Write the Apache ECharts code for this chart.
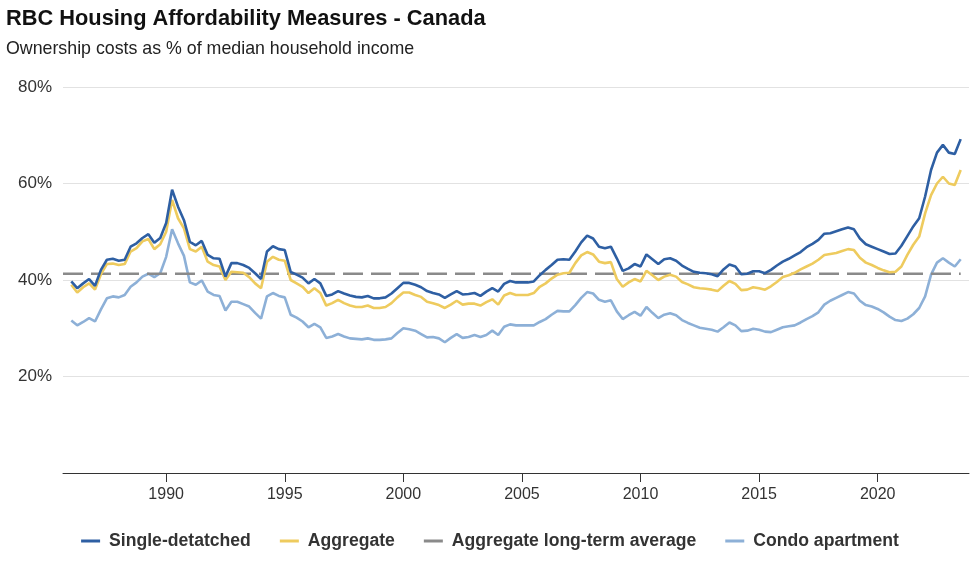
<!DOCTYPE html>
<html><head><meta charset="utf-8">
<script src="https://cdn.jsdelivr.net/npm/echarts@6/dist/echarts.min.js"></script>
<style>html,body{margin:0;padding:0;background:#fff}#c{width:980px;height:563px}</style>
</head><body><div id="c"></div>
<script>
// Quarterly data, 1986 Q1 .. 2023 Q3
const startYear = 1986;
const single = [
39.7,38.3,39.3,40.2, 38.8,42.1,44.2,44.4, 44.0,44.2,46.9,47.6, 48.7,49.5,47.7,48.7,
51.8,58.7,55.2,52.4, 47.9,47.2,48.1,45.2, 44.5,44.4,40.7,43.5, 43.5,43.1,42.5,41.4,
40.2,45.9,47.0,46.4, 46.2,41.7,41.1,40.5, 39.3,40.2,39.3,36.7, 37.0,37.7,37.2,36.8,
36.5,36.4,36.7,36.2, 36.2,36.4,37.2,38.3, 39.4,39.4,39.0,38.5, 37.7,37.3,37.0,36.3,
37.0,37.7,37.0,37.1, 37.3,36.7,37.6,38.3, 37.6,39.2,39.8,39.5, 39.5,39.5,39.7,41.0,
42.1,43.1,44.2,44.3, 44.2,45.9,47.8,49.2, 48.6,46.9,46.6,46.9, 44.5,41.9,42.4,43.3,
42.8,45.3,44.3,43.3, 44.3,44.5,44.0,43.0, 42.3,41.7,41.5,41.4, 41.2,40.8,42.2,43.2,
42.8,41.2,41.3,41.8, 41.8,41.4,42.1,43.0, 43.8,44.4,45.1,45.8, 46.8,47.5,48.3,49.6,
49.7,50.1,50.5,50.9, 50.5,48.6,47.4,46.9, 46.4,45.9,45.4,45.5, 47.1,49.1,51.1,52.8,
57.3,62.8,66.4,68.0, 66.4,66.1,69.2
];
const aggregate = [
39.0,37.4,38.5,39.3, 38.0,41.2,43.3,43.4, 43.1,43.3,45.9,46.6, 48.0,48.5,46.4,47.4,
50.0,56.6,52.8,50.7, 46.4,45.9,46.9,43.8, 43.1,42.8,40.0,41.7, 41.6,41.5,40.6,39.3,
38.3,43.8,44.8,44.2, 44.0,40.0,39.3,38.6, 37.3,38.3,37.3,34.7, 35.2,35.9,35.2,34.7,
34.4,34.4,34.7,34.2, 34.2,34.4,35.2,36.4, 37.4,37.4,36.9,36.5, 35.5,35.2,34.8,34.2,
34.9,35.7,34.9,35.1, 35.1,34.7,35.4,36.0, 34.9,36.8,37.3,36.9, 36.9,36.9,37.3,38.6,
39.3,40.3,41.1,41.4, 41.5,43.5,45.1,45.8, 45.3,43.8,43.5,43.7, 40.2,38.6,39.5,40.2,
39.7,41.9,41.0,40.0, 40.7,41.1,40.7,39.6, 39.1,38.5,38.3,38.2, 38.0,37.7,38.8,39.8,
39.2,37.9,38.0,38.5, 38.3,38.0,38.7,39.6, 40.6,41.0,41.5,42.2, 42.8,43.4,44.2,45.2,
45.4,45.6,46.0,46.4, 46.2,44.6,43.6,43.1, 42.5,42.0,41.6,41.7, 42.8,45.2,47.3,49.0,
53.8,57.6,60.0,61.4, 60.0,59.7,62.8
];
const condo = [
31.6,30.6,31.3,32.1, 31.4,33.9,36.2,36.6, 36.4,36.9,38.6,39.5, 40.7,41.3,40.6,41.4,
44.8,50.5,47.6,45.0, 39.5,39.0,39.9,37.6, 36.9,36.7,33.7,35.5, 35.5,35.0,34.5,33.2,
32.0,36.6,37.3,36.7, 36.4,32.8,32.2,31.4, 30.2,30.9,30.2,28.0, 28.3,28.8,28.3,27.9,
27.8,27.7,27.9,27.6, 27.6,27.7,27.9,29.0, 30.0,29.8,29.5,28.8, 28.1,28.2,27.9,27.1,
28.0,28.8,28.0,28.2, 28.6,28.2,28.6,29.5, 28.6,30.3,30.8,30.6, 30.6,30.6,30.6,31.3,
31.9,32.8,33.6,33.5, 33.5,34.8,36.3,37.5, 37.2,35.9,35.5,35.8, 33.5,31.9,32.7,33.4,
32.6,34.4,33.2,32.1, 32.8,33.1,32.7,31.7, 31.1,30.6,30.1,29.9, 29.7,29.3,30.2,31.2,
30.6,29.4,29.5,29.9, 29.7,29.3,29.2,29.7, 30.2,30.4,30.6,31.2, 31.9,32.5,33.3,34.9,
35.7,36.3,36.9,37.5, 37.2,35.7,34.8,34.5, 34.0,33.3,32.4,31.7, 31.5,32.0,32.9,34.2,
36.6,41.1,43.6,44.5, 43.6,42.8,44.3
];
const longTermAvg = 41.3;
const xTicks = [1990, 1995, 2000, 2005, 2010, 2015, 2020];
const yTicks = [20, 40, 60, 80];
const xMin = 1985.65, xMax = 2023.85;

const quarters = single.map((_, i) => startYear + i / 4);
const pair = arr => arr.map((v, i) => [quarters[i], v]);
const avgData = [[xMin, longTermAvg], [quarters[quarters.length - 1], longTermAvg]];

const FONT = "'Liberation Sans', Arial, Helvetica, sans-serif";
const chart = echarts.init(document.getElementById('c'), null, {renderer: 'canvas'});
chart.setOption({
  animation: false,
  backgroundColor: '#ffffff',
  textStyle: {fontFamily: FONT},
  title: {
    text: 'RBC Housing Affordability Measures - Canada',
    subtext: 'Ownership costs as % of median household income',
    left: 1, top: 3, itemGap: 10,
    textStyle: {fontFamily: FONT, fontSize: 21.8, fontWeight: 'bold', color: '#111'},
    subtextStyle: {fontFamily: FONT, fontSize: 17.8, color: '#222'}
  },
  legend: {
    data: ['Single-detatched', 'Aggregate', 'Aggregate long-term average', 'Condo apartment'],
    left: 'center', top: 527,
    icon: 'rect', itemWidth: 19, itemHeight: 3, itemGap: 29,
    textStyle: {fontFamily: FONT, fontSize: 17.6, fontWeight: 'bold', color: '#333', padding: [0, 0, 0, 4]}
  },
  grid: {left: 63, right: 11, top: 87, bottom: 90, containLabel: false},
  xAxis: {
    type: 'value', min: xMin, max: xMax,
    axisLine: {show: true, lineStyle: {color: '#333', width: 1}},
    axisTick: {show: true, length: 9, lineStyle: {color: '#333'}, customValues: xTicks},
    axisLabel: {customValues: xTicks, fontSize: 16, color: '#333', margin: 14, fontFamily: FONT,
      formatter: v => String(v)},
    splitLine: {show: false}
  },
  yAxis: {
    type: 'value', min: 0, max: 80, interval: 20,
    axisLine: {show: false}, axisTick: {show: false},
    axisLabel: {fontSize: 17, color: '#333', margin: 11, fontFamily: FONT,
      formatter: v => yTicks.includes(v) ? v + '%' : ''},
    splitLine: {lineStyle: {color: '#e2e2e2', width: 1}}
  },
  series: [
    {name: 'Condo apartment', type: 'line', data: pair(condo), symbol: 'none',
      color: '#8db0d7', lineStyle: {width: 2.6, color: '#8db0d7'}, z: 2},
    {name: 'Aggregate long-term average', type: 'line', data: avgData, symbol: 'none',
      color: '#8a8a8a', lineStyle: {width: 2.6, color: '#8a8a8a', type: [20, 8]}, z: 3},
    {name: 'Aggregate', type: 'line', data: pair(aggregate), symbol: 'none',
      color: '#eecb5e', lineStyle: {width: 2.6, color: '#eecb5e'}, z: 4},
    {name: 'Single-detatched', type: 'line', data: pair(single), symbol: 'none',
      color: '#2e5fa3', lineStyle: {width: 2.6, color: '#2e5fa3'}, z: 5}
  ]
});
</script></body></html>
